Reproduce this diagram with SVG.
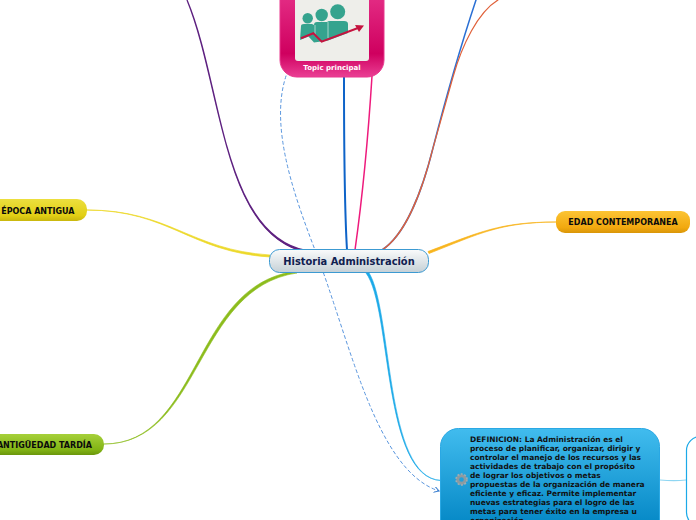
<svg xmlns="http://www.w3.org/2000/svg" width="696" height="520" viewBox="0 0 696 520">
<style>
text{font-family:"DejaVu Sans","Liberation Sans",sans-serif;font-weight:700}
.c{fill:none;stroke-linecap:round}
.l{font-size:8px;fill:#0b0b0b}
.d{font-size:7.48px;fill:#111}
</style>
<defs>
<linearGradient id="pink" x1="0" y1="0" x2="0" y2="1"><stop offset="0" stop-color="#f0489c"/><stop offset=".8" stop-color="#cf005f"/><stop offset="1" stop-color="#ea3f94"/></linearGradient>
<linearGradient id="yel" x1="0" y1="0" x2="0" y2="1"><stop offset="0" stop-color="#ecdf3f"/><stop offset=".75" stop-color="#e2cf14"/><stop offset="1" stop-color="#c9b70e"/></linearGradient>
<linearGradient id="grn" x1="0" y1="0" x2="0" y2="1"><stop offset="0" stop-color="#a6d03a"/><stop offset=".75" stop-color="#82b414"/><stop offset="1" stop-color="#6a960c"/></linearGradient>
<linearGradient id="org" x1="0" y1="0" x2="0" y2="1"><stop offset="0" stop-color="#fcc434"/><stop offset=".75" stop-color="#f2a90f"/><stop offset="1" stop-color="#d99608"/></linearGradient>
<linearGradient id="blu" x1="0" y1="0" x2="0" y2="1"><stop offset="0" stop-color="#41bcee"/><stop offset=".8" stop-color="#0588c6"/><stop offset="1" stop-color="#2aa5dc"/></linearGradient>
<linearGradient id="cen" x1="0" y1="0" x2="0" y2="1"><stop offset="0" stop-color="#fafbfb"/><stop offset="1" stop-color="#c5d0d6"/></linearGradient>
<marker id="arr" markerWidth="7" markerHeight="7" refX="5" refY="3" orient="auto"><path d="M0 0L5 3L0 6" fill="none" stroke="#3b7fd0" stroke-width="1"/></marker>
</defs>
<g id="connectors">
<path d="M187 0C222 85 222 234 306 250.500L308 252.500C221 236 223 85 187 0Z" fill="#5e2180" stroke="#5e2180" stroke-width="1.300"/>
<path class="c" d="M344 76C344 140 344 200 347 250" stroke="#0e63c8" stroke-width="2"/>
<path class="c" d="M372 76C368 140 362 200 355 250" stroke="#ee1a7c" stroke-width="1.500"/>
<path class="c" d="M476 0C456 60 444 105 433 148C422 192 405 235 382 250" stroke="#2a6fd4" stroke-width="1.500"/>
<path class="c" d="M498 0C478 12 462 45 453 77C445 105 441 120 433 148C422 192 405 235 382 250" stroke="#e0613a" stroke-width="1.200"/>
<path d="M87 210C170 210 190 250 270 255L270 257C190 252 170 210.500 87 210Z" fill="#edd92a" stroke="#edd92a" stroke-width=".7"/>
<path d="M104 444C200 444 192 286 294 271.500L297 273C194 288 202 444 104 444Z" fill="#8cbc1c" stroke="#8cbc1c" stroke-width=".6"/>
<path d="M428 251.500C480 232 500 222 556 222C500 222.500 481 233 429 253.500Z" fill="#f8b51e" stroke="#f8b51e" stroke-width=".7"/>
<path d="M366 273C392 308 382 478 441 480.500C384 478 393 310 368.500 272Z" fill="#1ba9e8" stroke="#1ba9e8" stroke-width=".6"/>
<path class="c" d="M660 480C670 481 678 481 686 480" stroke="#8fd6f2" stroke-width="1.200"/>
<path class="c" d="M286 76C270 125 292 190 315 250C350 340 375 470 439 491" stroke="#5a96de" stroke-width="1" stroke-dasharray="3 3" marker-end="url(#arr)"/>
</g>
<g id="topic">
<rect x="280" y="-40" width="104" height="117" rx="17" fill="url(#pink)" stroke="#e8368c" stroke-width="1"/>
<rect x="295" y="-30" width="74" height="91" rx="3" fill="#eeeeea"/>
<g fill="#35a38e">
<circle cx="307.700" cy="18.300" r="5.200"/><circle cx="321.700" cy="15" r="6.200"/><circle cx="337.700" cy="11.700" r="7.500"/>
<path d="M301 26q0-2 3-2h8l2 1q0-3 3-3h10q1-1 3-1h14q4 0 4 3v9l-20 7.500-7 1-7 1-5.500-6-8.500 3.500z"/>
</g>
<path d="M315 25V36M328 22V38" stroke="#d8ece6" stroke-width=".7"/>
<path d="M301 38.300L313.300 33.300L321.700 41.700L358 28" fill="none" stroke="#c5133f" stroke-width="2"/>
<path d="M355 25L364 25.500L359 32z" fill="#c5133f"/>
<text x="332" y="70" text-anchor="middle" font-size="7.020px" fill="#fff">Topic principal</text>
</g>
<g id="central">
<rect x="269.500" y="249.500" width="159" height="23" rx="10" fill="url(#cen)" stroke="#3c9ad2" stroke-width="1"/>
<text x="349" y="265" text-anchor="middle" font-size="9.900px" fill="#0f2050">Historia Administración</text>
</g>
<g id="epoca">
<rect x="-40" y="199" width="127" height="22" rx="10" fill="url(#yel)"/>
<text class="l" x="74.500" y="214" text-anchor="end">ÉPOCA ANTIGUA</text>
</g>
<g id="antiguedad">
<rect x="-40" y="434" width="144" height="21" rx="10" fill="url(#grn)"/>
<text class="l" x="92" y="448" text-anchor="end">ANTIGÜEDAD TARDÍA</text>
</g>
<g id="contemporanea">
<rect x="556" y="211" width="134" height="22" rx="9" fill="url(#org)"/>
<text class="l" x="623" y="225" text-anchor="middle">EDAD CONTEMPORANEA</text>
</g>
<g id="definicion">
<rect x="440.500" y="428.500" width="219" height="120" rx="18" fill="url(#blu)" stroke="#2aa8e4" stroke-width="1"/>
<circle cx="461.500" cy="479.500" r="3.800" fill="none" stroke="#8d9aa0" stroke-width="3"/>
<circle cx="461.500" cy="479.500" r="5.500" fill="none" stroke="#a3adb0" stroke-width="1.500" stroke-dasharray="2 1.500"/>
<text class="d" x="470" y="442">DEFINICION: La Administración es el</text>
<text class="d" x="470" y="451">proceso de planificar, organizar, dirigir y</text>
<text class="d" x="470" y="460">controlar el manejo de los recursos y las</text>
<text class="d" x="470" y="469">actividades de trabajo con el propósito</text>
<text class="d" x="470" y="478">de lograr los objetivos o metas</text>
<text class="d" x="470" y="487">propuestas de la organización de manera</text>
<text class="d" x="470" y="496">eficiente y eficaz. Permite implementar</text>
<text class="d" x="470" y="505">nuevas estrategias para el logro de las</text>
<text class="d" x="470" y="514">metas para tener éxito en la empresa u</text>
<text class="d" x="470" y="523">organización.</text>
</g>
<g id="right-node">
<rect x="686.500" y="436.500" width="60" height="90" rx="14" fill="#fff" stroke="#1ba9e8" stroke-width="1.200"/>
</g>
</svg>
